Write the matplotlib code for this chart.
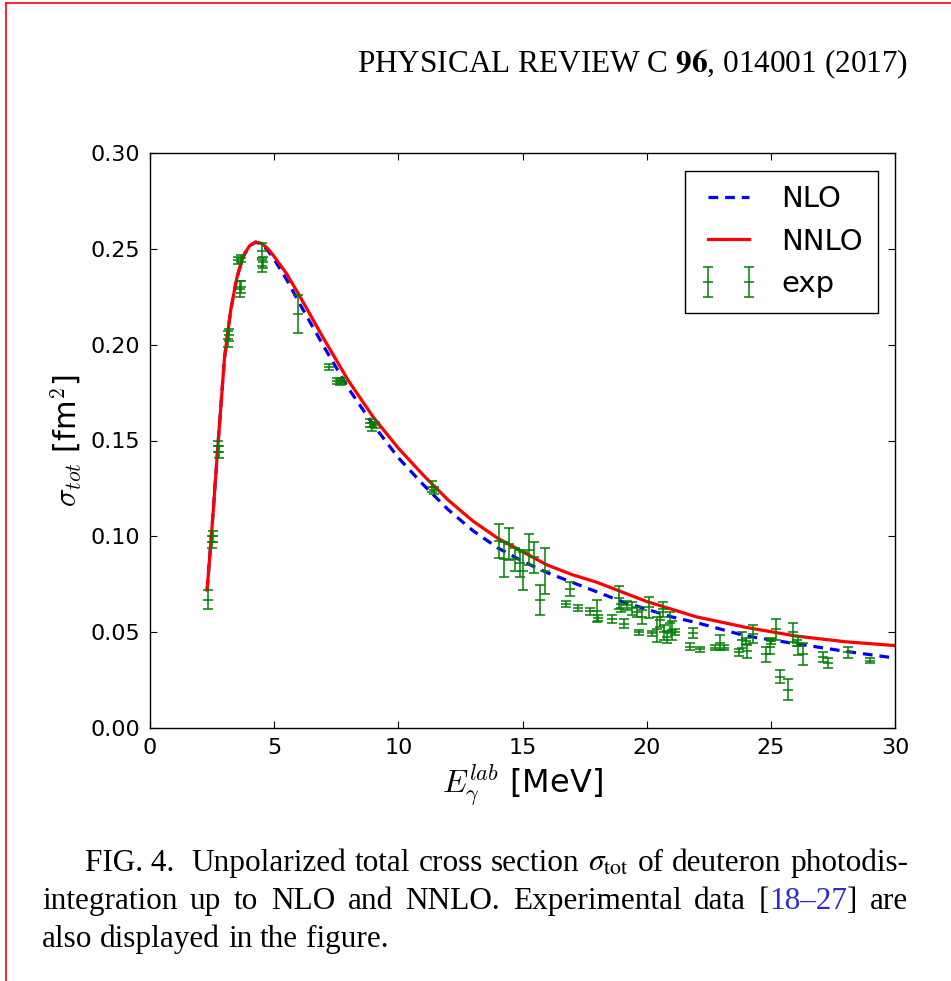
import numpy as np
import matplotlib
matplotlib.use("Agg")
import matplotlib.pyplot as plt
from matplotlib.lines import Line2D

plt.rcParams['font.family'] = ['DejaVu Sans']
plt.rcParams['mathtext.fontset'] = 'cm'
plt.rcParams['lines.scale_dashes'] = False

# theory curves
E_th = [2.3, 2.5, 2.75, 3.0, 3.25, 3.5, 3.75, 4.0, 4.25, 4.5, 4.75, 5.0, 5.5, 6.0,
        7.0, 8.0, 9.0, 10.0, 11.0, 12.0, 13.0, 14.0, 15.0, 16.0, 17.0, 18.0, 19.0,
        20.0, 21.0, 22.0, 24.0, 26.0, 28.0, 30.0]
nlo = [0.072, 0.105, 0.150, 0.193, 0.218, 0.235, 0.246, 0.2515, 0.2535, 0.2525, 0.249,
       0.2445, 0.234, 0.222, 0.199, 0.177, 0.158, 0.141, 0.127, 0.114, 0.103, 0.094,
       0.087, 0.081, 0.076, 0.071, 0.066, 0.062, 0.058, 0.055, 0.048, 0.044, 0.040, 0.0365]
nnlo = [0.072, 0.105, 0.150, 0.193, 0.218, 0.235, 0.246, 0.2515, 0.2535, 0.2528, 0.250,
        0.246, 0.237, 0.226, 0.203, 0.181, 0.162, 0.146, 0.132, 0.119, 0.108, 0.099,
        0.092, 0.085, 0.080, 0.076, 0.071, 0.066, 0.062, 0.058, 0.0525, 0.048, 0.045, 0.043]

# experimental data
E_exp = [2.35, 2.48, 2.53, 2.73, 2.78, 3.15, 3.2, 3.62, 3.68, 3.55, 3.65, 4.5, 4.55, 4.5,
         5.95, 7.22, 7.55, 7.65, 7.75, 8.85, 8.95, 9.05, 11.35, 11.45,
         14.07, 14.27, 14.47, 14.69, 14.89, 15.03, 15.27, 15.47, 15.69, 15.89,
         16.75, 16.91, 17.23, 17.7, 17.98, 18.05, 18.6, 18.9, 18.97, 19.1, 19.2, 19.4,
         19.6, 19.7, 19.8, 20.1, 20.2, 20.43, 20.55, 20.7, 20.8, 20.67, 20.94, 21.0,
         21.15, 21.75, 21.88, 22.15, 22.75, 22.95, 23.1, 23.7, 23.85, 24.0, 24.05, 24.3,
         24.8, 24.95, 25.0, 25.2, 25.37, 25.7, 25.89, 26.05, 26.1, 26.3, 27.1, 27.3,
         28.1, 29.0]
sig_exp = [0.067, 0.097, 0.100, 0.147, 0.144, 0.203, 0.205, 0.229, 0.230, 0.244, 0.245,
           0.249, 0.243, 0.241, 0.216, 0.1885, 0.181, 0.1805, 0.181, 0.159, 0.157, 0.158,
           0.126, 0.124,
           0.0975, 0.088, 0.096, 0.088, 0.086, 0.082, 0.093, 0.089, 0.0668, 0.082,
           0.0647, 0.0726, 0.0625, 0.061, 0.061, 0.0575, 0.0567, 0.068, 0.0625, 0.0545,
           0.064, 0.0625, 0.0607, 0.050, 0.058, 0.063, 0.0495, 0.0515, 0.0565, 0.050,
           0.0475, 0.062, 0.055, 0.051, 0.050, 0.0425, 0.0495, 0.041, 0.042, 0.0446,
           0.042, 0.0394, 0.046, 0.0455, 0.040, 0.049, 0.0385, 0.0425, 0.0455, 0.0515,
           0.0268, 0.020, 0.050, 0.0445, 0.043, 0.0385, 0.037, 0.034, 0.0394, 0.035]
err_exp = [0.005, 0.003, 0.003, 0.003, 0.003, 0.004, 0.003, 0.004, 0.003, 0.002, 0.002,
           0.004, 0.003, 0.003, 0.010, 0.0015, 0.0015, 0.0015, 0.0015, 0.002, 0.002, 0.0015,
           0.003, 0.002,
           0.009, 0.009, 0.0083, 0.006, 0.007, 0.010, 0.008, 0.008, 0.0078, 0.012,
           0.0017, 0.0037, 0.0015, 0.0018, 0.0056, 0.0015, 0.002, 0.006, 0.002, 0.0025,
           0.0025, 0.0035, 0.0026, 0.0013, 0.0035, 0.0056, 0.0013, 0.0065, 0.004, 0.004,
           0.003, 0.004, 0.0056, 0.005, 0.0015, 0.0017, 0.0026, 0.0015, 0.0015, 0.004,
           0.0015, 0.002, 0.004, 0.0015, 0.0035, 0.0048, 0.004, 0.004, 0.0015, 0.0056,
           0.0035, 0.0056, 0.005, 0.0015, 0.005, 0.0057, 0.0026, 0.0026, 0.003, 0.0013]

W, H = 951, 981
fig = plt.figure(figsize=(W / 100, H / 100), dpi=100)
ax = fig.add_axes([150 / W, 1 - 728 / H, 745 / W, 575 / H])

ax.plot(E_th, nlo, color='b', ls='--', dashes=(7, 5), lw=2.3, label='NLO')
ax.plot(E_th, nnlo, color='r', lw=2.3, label='NNLO')
ax.errorbar(E_exp, sig_exp, yerr=err_exp, fmt='_', color='g', ms=7, mew=1.1,
            elinewidth=1.1, capsize=3.6, capthick=1.1, label='exp')

ax.set_xlim(0, 30)
ax.set_ylim(0, 0.30)
ax.set_xticks([0, 5, 10, 15, 20, 25, 30])
ax.set_yticks([0.0, 0.05, 0.10, 0.15, 0.20, 0.25, 0.30])
ax.set_yticklabels(['0.00', '0.05', '0.10', '0.15', '0.20', '0.25', '0.30'])
ax.tick_params(direction='in', top=True, right=True, length=5, labelsize=16, pad=7)
for s in ax.spines.values():
    s.set_linewidth(1.0)
ax.set_xlabel(r'$E_\gamma^{lab}$ [MeV]', fontsize=23)
ax.set_ylabel(r'$\sigma_{tot}$ [fm$^2$]', fontsize=22)
ax.legend(loc='upper right', fontsize=21, numpoints=2, fancybox=False,
          edgecolor='k', framealpha=1, borderaxespad=0.6, borderpad=0.5)

# page header
serif = 'Liberation Serif'
fig.text(908 / W, 1 - 72 / H, 'PHYSICAL REVIEW C $\\mathbf{96}$, 014001 (2017)',
         family=serif, fontsize=22.5, ha='right', va='baseline', math_fontfamily='stix')

# caption, justified word by word
renderer = fig.canvas.get_renderer()
fs = 22.5
space = 0.25 * fs * 100 / 72


def put_line(tokens, x0, x1, y, justify=True):
    arts = []
    for txt, col, gap in tokens:
        t = fig.text(0, 1 - y / H, txt, family=serif, fontsize=fs, color=col,
                     va='baseline', ha='left', math_fontfamily='stix')
        arts.append((t, t.get_window_extent(renderer).width, gap))
    ngaps = sum(1 for a in arts[1:] if a[2])
    total = sum(a[1] for a in arts)
    sp = (x1 - x0 - total) / ngaps if (justify and ngaps) else space
    x = x0
    for i, (t, w, gap) in enumerate(arts):
        if i > 0 and gap:
            x += sp
        t.set_x(x / W)
        x += w


k = 'k'
line1 = [('FIG. 4.', k, True), ('', k, True), ('Unpolarized', k, True), ('total', k, True),
         ('cross', k, True), ('section', k, True), (r'$\sigma_{\rm tot}$', k, True),
         ('of', k, True), ('deuteron', k, True), ('photodis-', k, True)]
line2 = [('integration', k, True), ('up', k, True), ('to', k, True), ('NLO', k, True),
         ('and', k, True), ('NNLO.', k, True), ('Experimental', k, True), ('data', k, True),
         ('[', k, True), ('18–27', '#2b2bd9', False), (']', k, False), ('are', k, True)]
line3 = [('also', k, True), ('displayed', k, True), ('in', k, True), ('the', k, True),
         ('figure.', k, True)]
put_line(line1, 85, 908, 871)
put_line(line2, 42, 908, 909)
put_line(line3, 42, 908, 947, justify=False)

# red page frame
fig.add_artist(Line2D([6 / W, 6 / W], [0, 1 - 3 / H], color='r', lw=1.2))
fig.add_artist(Line2D([6 / W, 1], [1 - 3 / H, 1 - 3 / H], color='r', lw=1.2))

fig.savefig('out.png', dpi=100)
